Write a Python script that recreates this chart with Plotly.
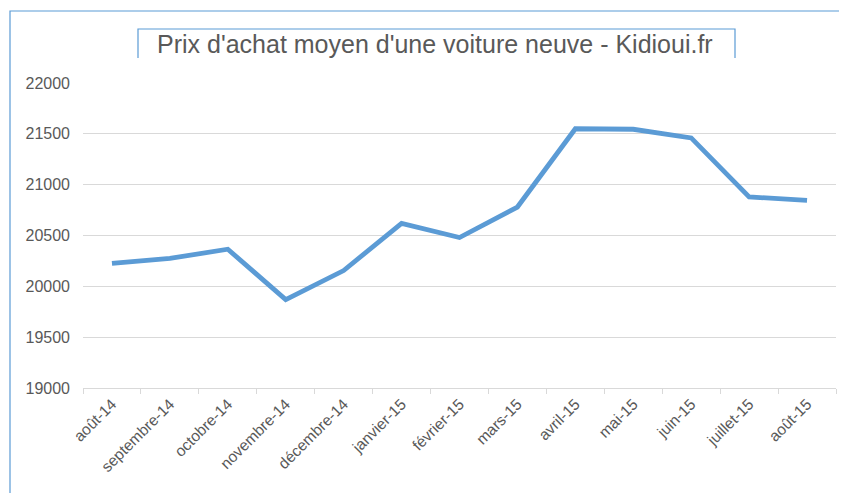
import plotly.graph_objects as go

months = ["août-14", "septembre-14", "octobre-14", "novembre-14", "décembre-14",
          "janvier-15", "février-15", "mars-15", "avril-15", "mai-15", "juin-15",
          "juillet-15", "août-15"]
prix = [20225, 20275, 20365, 19870, 20155, 20620, 20480, 20780, 21550, 21545, 21460, 20880, 20845]

# page body has an 8px margin: figure coordinates = window coordinates - 8
OFF = 8
W, H = 847 - OFF, 493 - OFF
L, R, T, B = 83 - OFF, 11, 83 - OFF, 105
pw, ph = W - L - R, H - T - B

def px(x):
    return (x - OFF - L) / pw

def py(y):
    return 1 - (y - OFF - T) / ph

fig = go.Figure()
fig.add_trace(go.Scatter(x=months, y=prix, mode="lines",
                         line=dict(color="#5b9bd5", width=4.8), hoverinfo="skip"))

grey = "#595959"
fig.update_layout(
    width=W, height=H,
    margin=dict(l=L, r=R, t=T, b=B, autoexpand=False),
    paper_bgcolor="white", plot_bgcolor="white",
    showlegend=False,
    font=dict(family="Liberation Sans, Arial, sans-serif", color=grey, size=14),
    xaxis=dict(type="category", tickangle=-45, showgrid=False, automargin=False,
               showline=True, linecolor="#d9d9d9", linewidth=1,
               ticks="outside", tickcolor="#d9d9d9", ticklen=5,
               tickson="boundaries", tickfont=dict(size=15.5, color=grey),
               range=[-0.5, 12.5]),
    yaxis=dict(range=[19000, 22000], dtick=500, tickformat="d", showgrid=True,
               automargin=False,
               gridcolor="#d9d9d9", gridwidth=1, zeroline=False, showline=False,
               tickfont=dict(size=16, color=grey), ticklabelstandoff=12),
    annotations=[dict(text="Prix d'achat moyen d'une voiture neuve - Kidioui.fr",
                      x=px(435), y=py(44), xref="paper", yref="paper",
                      showarrow=False, xanchor="center", yanchor="middle",
                      font=dict(size=25, color=grey))],
    shapes=[
        dict(type="path", xref="paper", yref="paper",
             path=f"M {px(138)} {py(58)} L {px(138)} {py(29)} L {px(735)} {py(29)} L {px(735)} {py(58)}",
             line=dict(color="#5b9bd5", width=1.2)),
        dict(type="path", xref="paper", yref="paper",
             path=f"M {px(10)} {py(493)} L {px(10)} {py(11)} L {px(847)} {py(11)}",
             line=dict(color="#5b9bd5", width=1.2)),
    ],
)

fig.write_html("out.html")
